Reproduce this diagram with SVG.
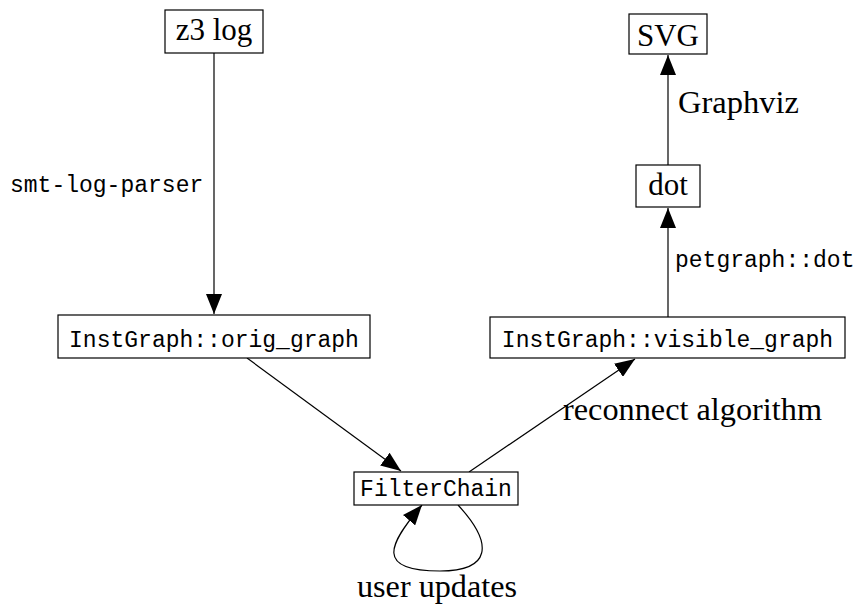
<svg xmlns="http://www.w3.org/2000/svg" width="861" height="607" viewBox="0 0 861 607">
  <style>
    .box { fill: #ffffff; stroke: #000000; stroke-width: 1.2; }
    .edge { fill: none; stroke: #000000; stroke-width: 1.2; }
    .rm { font-family: "Liberation Serif", "DejaVu Serif", serif; font-size: 31px; fill: #000000; }
    .tt { font-family: "Liberation Mono", "DejaVu Sans Mono", monospace; font-size: 23px; fill: #000000; }
    .mid { text-anchor: middle; }
  </style>
  <defs>
    <marker id="arrow" markerUnits="userSpaceOnUse" markerWidth="20" markerHeight="16" refX="20" refY="8" orient="auto">
      <path d="M0,0 L20,8 L0,16 Z" fill="#000000"/>
    </marker>
  </defs>

  <!-- connectors -->
  <g id="edges">
    <line class="edge" x1="214" y1="53" x2="214" y2="314" marker-end="url(#arrow)"/>
    <line class="edge" x1="247" y1="358" x2="401" y2="471" marker-end="url(#arrow)"/>
    <line class="edge" x1="469" y1="472" x2="635" y2="359" marker-end="url(#arrow)"/>
    <line class="edge" x1="668" y1="317" x2="668" y2="208" marker-end="url(#arrow)"/>
    <line class="edge" x1="668" y1="165" x2="668" y2="55" marker-end="url(#arrow)"/>
    <path class="edge" d="M458,505 C495,545 490,571 440,571 C375,571 388,545 422,505" marker-end="url(#arrow)"/>
    <text class="tt" x="10" y="192">smt-log-parser</text>
    <text class="tt" x="675" y="267">petgraph::dot</text>
    <text class="rm" x="678" y="113" textLength="121" lengthAdjust="spacingAndGlyphs">Graphviz</text>
    <text class="rm" x="563" y="420" textLength="259" lengthAdjust="spacingAndGlyphs">reconnect algorithm</text>
    <text class="rm" x="357" y="597" textLength="160" lengthAdjust="spacingAndGlyphs">user updates</text>
  </g>

  <!-- nodes -->
  <g id="z3log">
    <rect class="box" x="165" y="10" width="98" height="43"/>
    <text class="rm mid" x="214" y="40">z3 log</text>
  </g>
  <g id="svg">
    <rect class="box" x="629" y="14" width="78" height="40"/>
    <text class="rm mid" x="668" y="46">SVG</text>
  </g>
  <g id="dot">
    <rect class="box" x="636" y="165" width="64" height="42"/>
    <text class="rm mid" x="668" y="195">dot</text>
  </g>
  <g id="orig_graph">
    <rect class="box" x="58" y="315" width="312" height="43"/>
    <text class="tt mid" x="214" y="347">InstGraph::orig_graph</text>
  </g>
  <g id="visible_graph">
    <rect class="box" x="490" y="317" width="355" height="41"/>
    <text class="tt mid" x="667.5" y="347">InstGraph::visible_graph</text>
  </g>
  <g id="filterchain">
    <rect class="box" x="354" y="472" width="164" height="33"/>
    <text class="tt mid" x="436" y="496">FilterChain</text>
  </g>
</svg>
